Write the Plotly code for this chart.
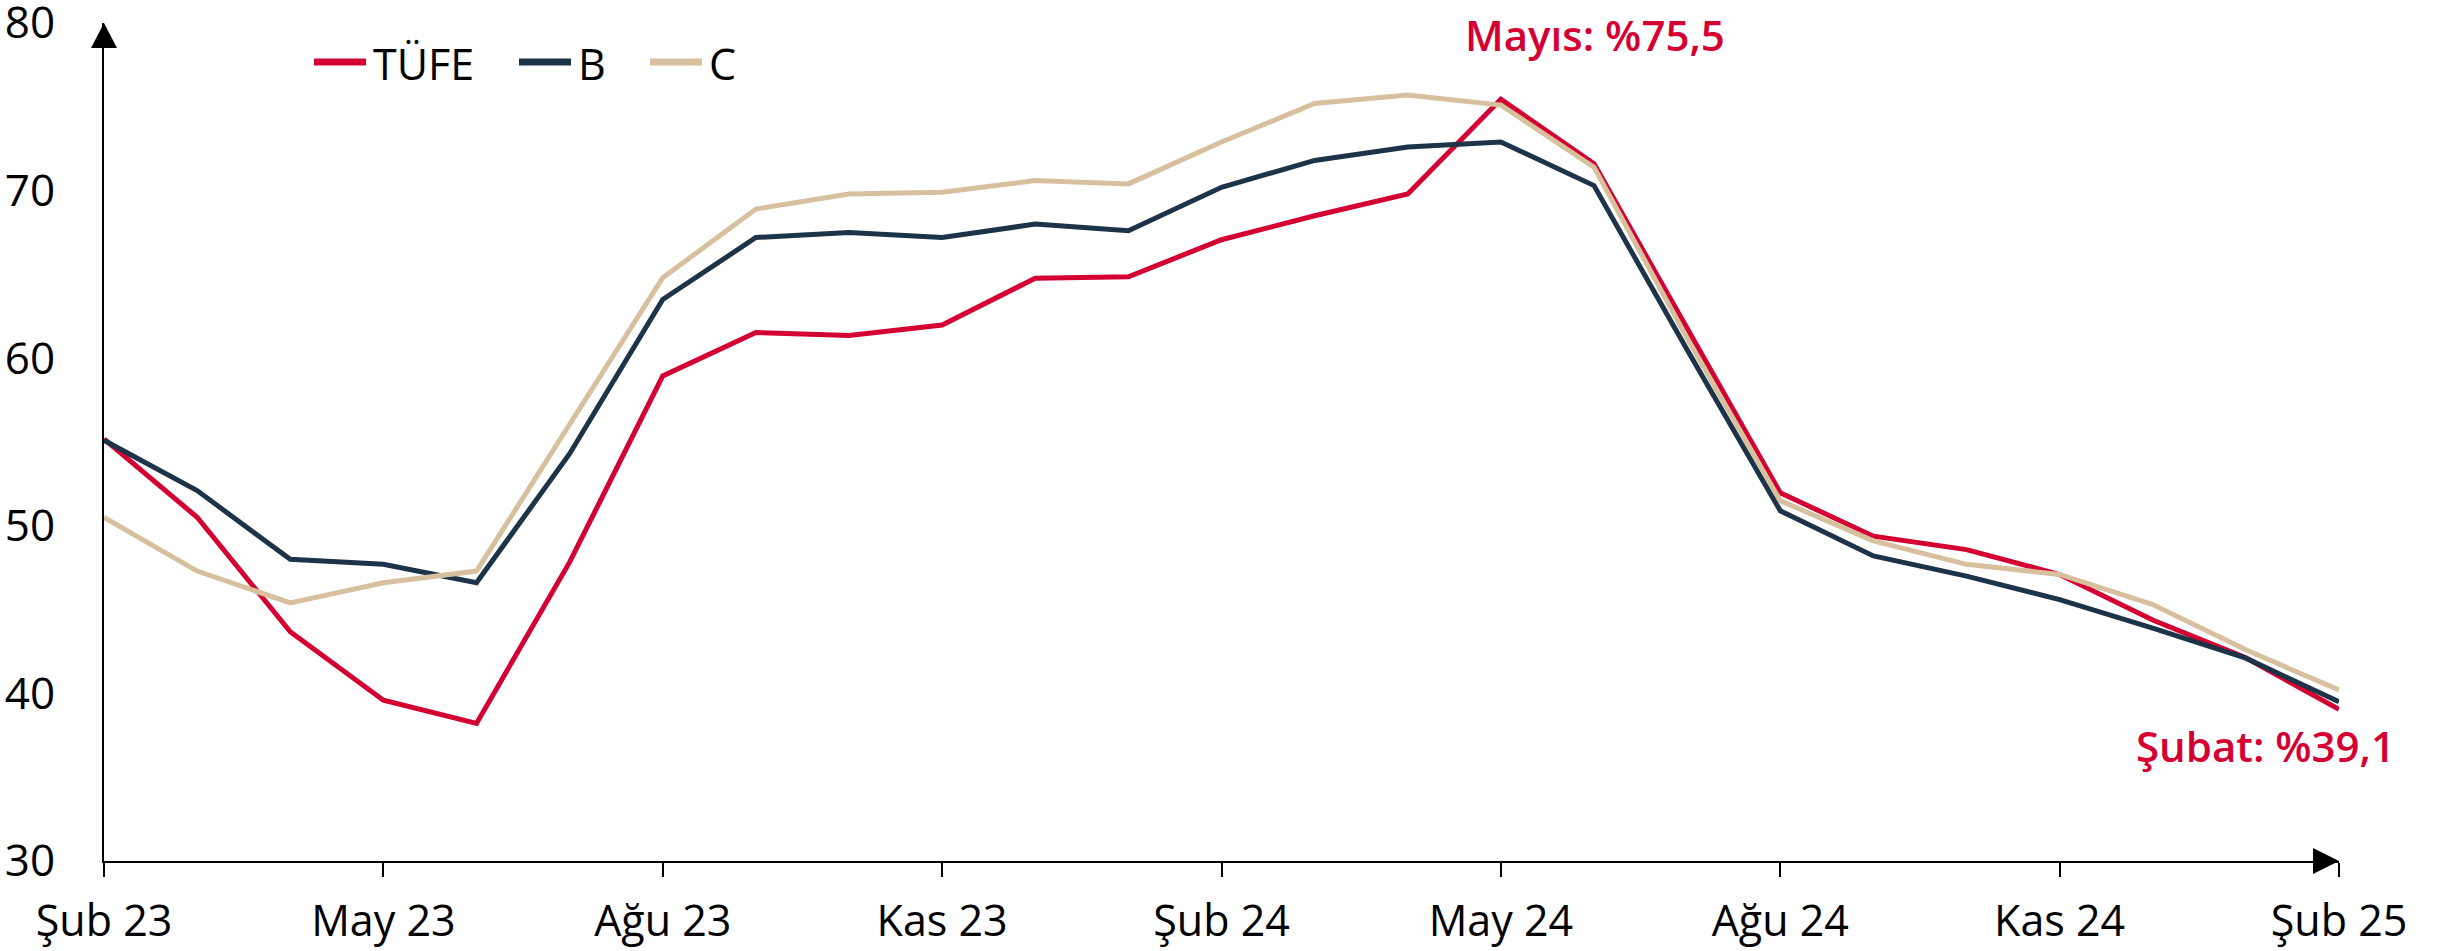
import plotly.graph_objects as go

# aylık yıllık enflasyon, Şubat 2023 - Şubat 2025
months = [
    "Şub 23", "Mar 23", "Nis 23", "May 23", "Haz 23", "Tem 23", "Ağu 23", "Eyl 23",
    "Eki 23", "Kas 23", "Ara 23", "Oca 24", "Şub 24", "Mar 24", "Nis 24", "May 24",
    "Haz 24", "Tem 24", "Ağu 24", "Eyl 24", "Eki 24", "Kas 24", "Ara 24", "Oca 25",
    "Şub 25",
]
tufe = [55.18, 50.51, 43.68, 39.59, 38.21, 47.83, 58.94, 61.53, 61.36, 61.98, 64.77,
        64.86, 67.07, 68.50, 69.80, 75.45, 71.60, 61.78, 51.97, 49.38, 48.58, 47.09,
        44.38, 42.12, 39.05]
b_index = [55.1, 52.1, 48.0, 47.7, 46.6, 54.3, 63.5, 67.2, 67.5, 67.2, 68.0, 67.6,
           70.2, 71.8, 72.6, 72.9, 70.3, 60.5, 50.9, 48.2, 47.0, 45.6, 43.9, 42.1, 39.5]
c_index = [50.5, 47.3, 45.4, 46.6, 47.3, 56.0, 64.8, 68.9, 69.8, 69.9, 70.6, 70.4,
           72.9, 75.2, 75.7, 75.1, 71.4, 61.2, 51.5, 49.1, 47.7, 47.1, 45.3, 42.6, 40.2]
series_names = ["TÜFE", "B", "C"]
tick_labels = ["Şub 23", "May 23", "Ağu 23", "Kas 23", "Şub 24", "May 24", "Ağu 24",
               "Kas 24", "Şub 25"]
y_ticks = [30, 40, 50, 60, 70, 80]

RED = "#D50032"
NAVY = "#1D3348"
TAN = "#D6C09D"
FONT = "Open Sans"

W, H = 2445, 951
ML, MR, MT, MB = 104, 106, 23, 90
PW, PH = W - ML - MR, H - MT - MB


def px_x(p):
    return (p - ML) / PW


def px_y(p):
    return (MT + PH - p) / PH


x = list(range(len(months)))
colors = [RED, NAVY, TAN]

fig = go.Figure()
for name, vals, color in zip(series_names, [tufe, b_index, c_index], colors):
    fig.add_trace(go.Scatter(x=x, y=vals, name=name, mode="lines",
                             line=dict(color=color, width=5),
                             hovertext=months, showlegend=False))

peak = tufe.index(max(tufe))
last = len(tufe) - 1
fig.add_annotation(x=peak, y=tufe[peak], text="Mayıs: %75,5", showarrow=False,
                   xanchor="left", yanchor="middle", xshift=-38, yshift=65,
                   font=dict(family=FONT, size=42, color=RED, weight=600))
fig.add_annotation(x=last, y=tufe[last], text="Şubat: %39,1", showarrow=False,
                   xanchor="right", yanchor="middle", xshift=58, yshift=-36,
                   font=dict(family=FONT, size=42, color=RED, weight=600))

# elle çizilen lejant
leg_x = [312, 517, 648]
leg_y = 62
for name, color, lx in zip(series_names, colors, leg_x):
    fig.add_shape(type="line", xref="paper", yref="paper",
                  x0=px_x(lx + 2), x1=px_x(lx + 54), y0=px_y(leg_y), y1=px_y(leg_y),
                  line=dict(color=color, width=7))
    fig.add_annotation(xref="paper", yref="paper", x=px_x(lx + 59), y=px_y(leg_y + 2),
                       text=name, showarrow=False, xanchor="left", yanchor="middle",
                       font=dict(family=FONT, size=43, color="black"))

# eksen okları
ax, ay = 13 / PW, 25 / PH
bx, by = 26 / PW, 13 / PH
fig.add_shape(type="path", xref="paper", yref="paper", fillcolor="black", line_width=0,
              path=f"M {-ax},{1 - ay} L 0,1 L {ax},{1 - ay} Z")
fig.add_shape(type="path", xref="paper", yref="paper", fillcolor="black", line_width=0,
              path=f"M {1 - bx},{by} L 1,0 L {1 - bx},{-by} Z")

fig.update_layout(
    width=W, height=H,
    margin=dict(l=ML, r=MR, t=MT, b=MB),
    plot_bgcolor="white", paper_bgcolor="white",
    font=dict(family=FONT, size=44, color="black"),
    showlegend=False,
    xaxis=dict(range=[0, 24], tickvals=list(range(0, 25, 3)), ticktext=tick_labels,
               showline=True, linecolor="black", linewidth=2, ticks="outside",
               ticklen=14, tickwidth=2, tickcolor="black", showgrid=False,
               zeroline=False, ticklabelstandoff=7, automargin=False,
               tickfont=dict(family=FONT, size=43)),
    yaxis=dict(range=[30, 80], tickvals=y_ticks, showline=True, linecolor="black",
               linewidth=2, ticks="outside", ticklen=38, tickcolor="rgba(0,0,0,0)",
               showgrid=False, zeroline=False, automargin=False,
               ticklabeloverflow="allow", tickfont=dict(family=FONT, size=44)),
)

# sayfanın varsayılan 8px gövde boşluğunu kaldır
fig.write_html("out.html", config={"displayModeBar": False},
               post_script="document.body.style.margin='0';document.body.style.overflow='hidden';")
